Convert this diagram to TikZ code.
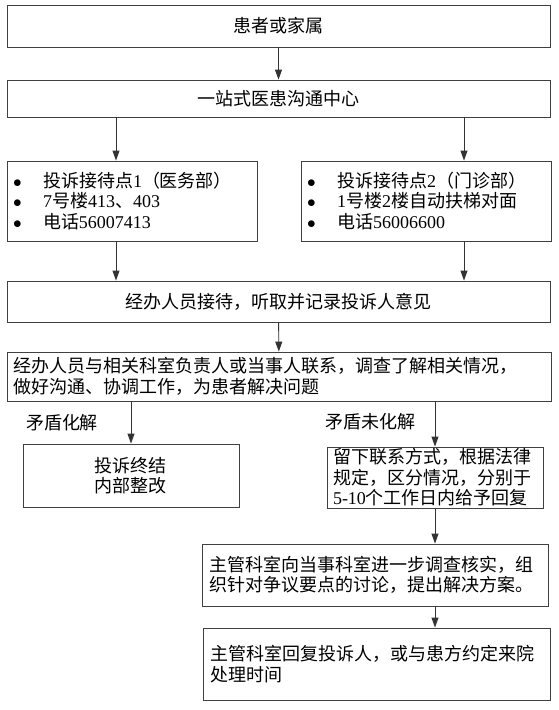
\documentclass[tikz,border=0pt]{standalone}
\usepackage{fontspec}
\setmainfont{Noto Sans CJK SC}
\newfontfamily\latfont{Liberation Serif}
\newcommand{\lat}[1]{{\latfont #1}}
\newcommand{\bul}{\makebox[30pt][l]{$\bullet$}}
\usetikzlibrary{arrows.meta, positioning}

\begin{document}
\begin{tikzpicture}[
    x=1pt, y=-1pt,
    box/.style={draw=black!75, line width=0.9pt, inner xsep=6pt, inner ysep=0pt,
        font=\fontsize{18}{20.5}\selectfont},
    wide/.style={box, text width=531pt, minimum height=#1, align=center},
    arr/.style={-{Triangle[length=10pt, width=7pt]}, line width=0.9pt, draw=black!80},
    lbl/.style={font=\fontsize{18}{20.5}\selectfont, inner sep=0pt}
]
    \useasboundingbox (0,0) rectangle (558,710);

    \node[wide=42pt] (family) at (278.5,26) {患者或家属};
    \node[wide=37pt] (hub) at (278.5,98.5) {一站式医患沟通中心};

    \node[box, text width=238pt, minimum height=80pt, align=left] (desk1) at (132,201)
        {\bul 投诉接待点\lat{1}（医务部）\\\bul \lat{7}号楼\lat{413}、\lat{403}\\\bul 电话\lat{56007413}};
    \node[box, text width=238pt, minimum height=80pt, align=left] (desk2) at (426,201)
        {\bul 投诉接待点\lat{2}（门诊部）\\\bul \lat{1}号楼\lat{2}楼自动扶梯对面\\\bul 电话\lat{56006600}};

    \node[wide=41pt] (recv) at (278.5,301.5) {经办人员接待，听取并记录投诉人意见};
    \node[box, text width=532pt, minimum height=49pt, align=left] (contact) at (279,376.5)
        {经办人员与相关科室负责人或当事人联系，调查了解相关情况，\\做好沟通、协调工作，为患者解决问题};

    \node[lbl] (okay) at (62,423) {矛盾化解};
    \node[lbl] (notok) at (370,422) {矛盾未化解};

    \node[box, text width=204pt, minimum height=63pt, align=center] (closed) at (131,475.5)
        {投诉终结\\内部整改};
    \node[box, text width=204pt, minimum height=61pt, align=left] (open) at (435,477.5)
        {留下联系方式，根据法律\\规定，区分情况，分别于\\\lat{5-10}个工作日内给予回复};

    \node[box, inner xsep=7pt, text width=332pt, minimum height=62pt, align=left] (verify) at (375,575)
        {主管科室向当事科室进一步调查核实，组\\织针对争议要点的讨论，提出解决方案。};
    \node[box, inner xsep=7pt, text width=333pt, minimum height=72pt, align=left] (reply) at (376.5,664)
        {主管科室回复投诉人，或与患方约定来院\\处理时间};

    \coordinate (lcol) at (116,0);
    \coordinate (rcol) at (464,0);

    \draw[arr] (family) -- (hub);
    \draw[arr] (hub.south -| lcol) -- (desk1.north -| lcol);
    \draw[arr] (hub.south -| rcol) -- (desk2.north -| rcol);
    \draw[arr] (desk1.south -| lcol) -- (recv.north -| lcol);
    \draw[arr] (desk2.south -| rcol) -- (recv.north -| rcol);
    \draw[arr] (recv) -- (contact);
    \draw[arr] (contact.south -| closed) -- (closed);
    \draw[arr] (contact.south -| open) -- (open);
    \draw[arr] (open) -- (open |- verify.north);
    \draw[arr] (verify.south -| open) -- (reply.north -| open);
\end{tikzpicture}
\end{document}
